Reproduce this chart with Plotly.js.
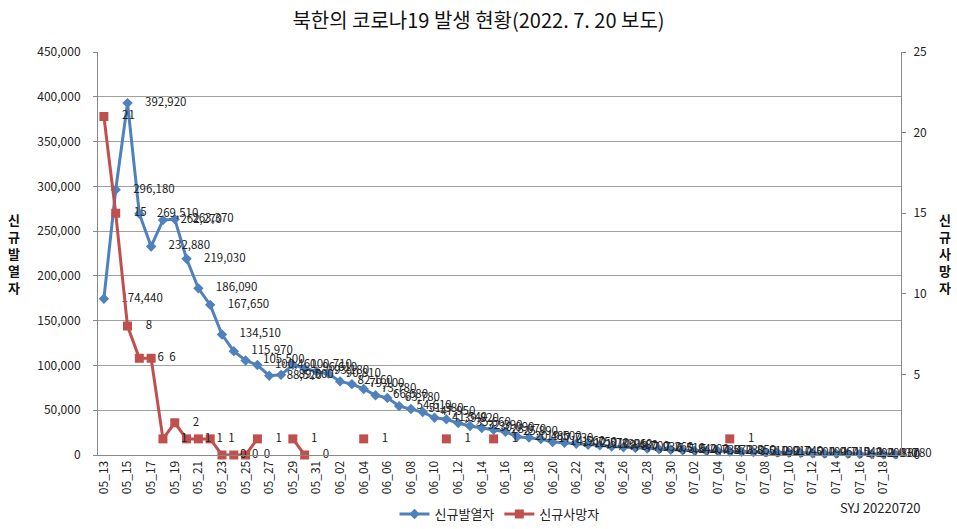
<!DOCTYPE html>
<html>
<head>
<meta charset="utf-8">
<script src="https://cdn.plot.ly/plotly-3.0.1.min.js"></script>
<style>html,body{margin:0;padding:0;background:#fff;}#chart{width:957px;height:529px;}</style>
</head>
<body>
<div id="chart"></div>
<script>
// Categories: 05_13 .. 07_19
const dates = [
  "05_13","05_14","05_15","05_16","05_17","05_18","05_19","05_20","05_21","05_22",
  "05_23","05_24","05_25","05_26","05_27","05_28","05_29","05_30","05_31",
  "06_01","06_02","06_03","06_04","06_05","06_06","06_07","06_08","06_09","06_10",
  "06_11","06_12","06_13","06_14","06_15","06_16","06_17","06_18","06_19","06_20",
  "06_21","06_22","06_23","06_24","06_25","06_26","06_27","06_28","06_29","06_30",
  "07_01","07_02","07_03","07_04","07_05","07_06","07_07","07_08","07_09","07_10",
  "07_11","07_12","07_13","07_14","07_15","07_16","07_17","07_18","07_19"
];
// 신규발열자 (new fever cases)
const feverCases = [
  174440, 296180, 392920, 269510, 232880, 262270, 263370, 219030, 186090, 167650,
  134510, 115970, 105500, 100460, 88520, 89500, 100710, 96610, 93180,
  90810, 82160, 79100, 73780, 66680, 63780, 54610, 51380, 47950, 41540,
  39820, 35660, 32390, 30090, 28070, 25890, 20480, 19500, 17730, 14560,
  13750, 12570, 11330, 10960, 9480, 8700, 7930, 7260, 6510, 5840,
  5200, 4730, 4570, 4230, 3850, 3510, 3190, 2910, 2740, 2500,
  2190, 1960, 1710, 1540, 1390, 1200, 1030, 880, 780
];
// 신규사망자 (new deaths)
const deaths = [
  21, 15, 8, 6, 6, 1, 2, 1, 1, 1,
  0, 0, 0, 1, null, null, 1, 0, null,
  null, null, null, 1, null, null, null, null, null, null,
  1, null, null, null, 1, null, null, null, null, null,
  null, null, null, null, null, null, null, null, null, null,
  null, null, null, null, 1, null, null, null, null, null,
  null, null, null, null, null, null, null, null, null
];
const leftTicks = [0, 50000, 100000, 150000, 200000, 250000, 300000, 350000, 400000, 450000];
const rightTicks = [0, 5, 10, 15, 20, 25];

const idx = dates.map((d, i) => i);
const tickIdx = idx.filter(i => i % 2 === 0);
const tickTxt = tickIdx.map(i => dates[i]);
const FONT = "'Noto Sans CJK KR', 'Noto Sans', sans-serif";
const pad = "\u2002\u2002";
const feverText = feverCases.map(v => pad + v.toLocaleString("en-US"));
const deathText = deaths.map(v => v === null ? "" : pad + String(v));

const traces = [
  {
    x: idx, y: feverCases, name: "신규발열자", type: "scatter",
    mode: "lines+markers+text",
    line: {color: "#4F81BD", width: 3},
    marker: {symbol: "diamond", size: 8, color: "#4F81BD"},
    text: feverText, textposition: "middle right",
    textfont: {size: 11.5, color: "#222", family: FONT},
    cliponaxis: false, yaxis: "y"
  },
  {
    x: idx, y: deaths, name: "신규사망자", type: "scatter",
    mode: "lines+markers+text", connectgaps: false,
    line: {color: "#C0504D", width: 3},
    marker: {symbol: "square", size: 9, color: "#C0504D"},
    text: deathText, textposition: "middle right",
    textfont: {size: 11.5, color: "#222", family: FONT},
    cliponaxis: false, yaxis: "y2"
  }
];

const layout = {
  width: 957, height: 529,
  margin: {l: 98, r: 56, t: 52, b: 74},
  paper_bgcolor: "#fff", plot_bgcolor: "#fff",
  font: {family: FONT, color: "#222", size: 11},
  title: {text: "북한의 코로나19 발생 현황(2022. 7. 20 보도)", x: 0.5, xanchor: "center", y: 0.96, yanchor: "middle",
          font: {size: 20, color: "#111", family: FONT}},
  showlegend: true,
  legend: {orientation: "h", x: 0.5, xanchor: "center", yref: "container", y: -0.01, yanchor: "bottom",
           font: {size: 13, family: FONT, color: "#222"}},
  xaxis: {
    range: [-0.5, 67.5], tickmode: "array", tickvals: tickIdx, ticktext: tickTxt,
    tickangle: -90, tickfont: {size: 12, family: FONT, color: "#222"},
    showgrid: false, zeroline: false, showline: true, linecolor: "#888", linewidth: 1,
    ticks: "", automargin: false
  },
  yaxis: {
    range: [0, 450000], tickmode: "array", tickvals: leftTicks,
    tickformat: ",", tickfont: {size: 12, family: FONT, color: "#222"},
    showgrid: true, gridcolor: "#A0A0A0", gridwidth: 1, zeroline: false,
    showline: true, linecolor: "#888", linewidth: 1, ticks: "outside", ticklen: 4, tickcolor: "#888",
    ticklabelstandoff: 10, automargin: false
  },
  yaxis2: {
    range: [0, 25], tickmode: "array", tickvals: rightTicks,
    overlaying: "y", side: "right", tickfont: {size: 12, family: FONT, color: "#222"},
    showgrid: false, zeroline: false, showline: true, linecolor: "#888", linewidth: 1,
    ticks: "outside", ticklen: 4, tickcolor: "#888", ticklabelstandoff: 5, automargin: false
  },
  annotations: [
    {text: "<b>신<br>규<br>발<br>열<br>자</b>", xref: "paper", yref: "paper", x: -0.105, y: 0.5,
     xanchor: "center", yanchor: "middle", showarrow: false, font: {size: 13, family: FONT, color: "#111"}},
    {text: "<b>신<br>규<br>사<br>망<br>자</b>", xref: "paper", yref: "paper", x: 1.055, y: 0.5,
     xanchor: "center", yanchor: "middle", showarrow: false, font: {size: 13, family: FONT, color: "#111"}},
    {text: "SYJ 20220720", xref: "paper", yref: "paper", x: 0.975, y: -0.13,
     xanchor: "center", yanchor: "middle", showarrow: false, font: {size: 13, family: FONT, color: "#222"}}
  ]
};

Plotly.newPlot("chart", traces, layout, {displayModeBar: false, staticPlot: true});
</script>
</body>
</html>
